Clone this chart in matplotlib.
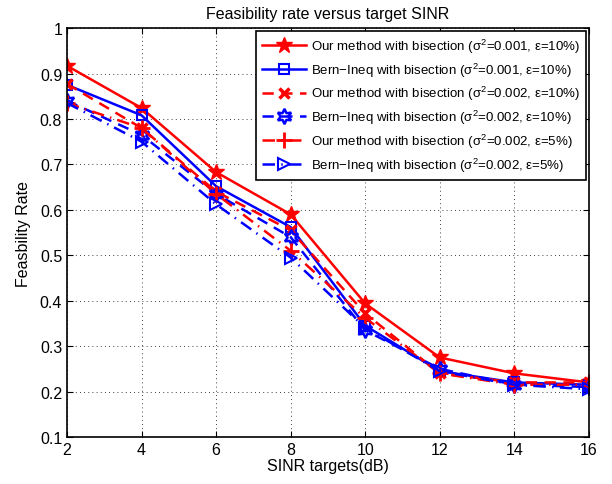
import matplotlib
matplotlib.use("Agg")
import matplotlib.pyplot as plt

plt.rcParams["font.family"] = ["Liberation Sans", "DejaVu Sans"]
plt.rcParams["mathtext.fontset"] = "custom"
plt.rcParams["mathtext.rm"] = "Liberation Sans"
plt.rcParams["mathtext.it"] = "Liberation Sans"

sinr = [2, 4, 6, 8, 10, 12, 14, 16]

our_001_10 = [0.917, 0.824, 0.683, 0.59, 0.394, 0.275, 0.24, 0.22]
bern_001_10 = [0.875, 0.808, 0.652, 0.562, 0.345, 0.245, 0.22, 0.215]
our_002_10 = [0.877, 0.78, 0.64, 0.555, 0.372, 0.24, 0.22, 0.22]
bern_002_10 = [0.84, 0.765, 0.635, 0.54, 0.335, 0.25, 0.215, 0.21]
our_002_5 = [0.835, 0.78, 0.635, 0.51, 0.362, 0.24, 0.215, 0.215]
bern_002_5 = [0.835, 0.75, 0.612, 0.495, 0.34, 0.245, 0.215, 0.205]

labels = [
    r"Our method with bisection ($\mathregular{\sigma^2}$=0.001, $\mathregular{\epsilon}$=10%)",
    r"Bern$-$Ineq with bisection ($\mathregular{\sigma^2}$=0.001, $\mathregular{\epsilon}$=10%)",
    r"Our method with bisection ($\mathregular{\sigma^2}$=0.002, $\mathregular{\epsilon}$=10%)",
    r"Bern$-$Ineq with bisection ($\mathregular{\sigma^2}$=0.002, $\mathregular{\epsilon}$=10%)",
    r"Our method with bisection ($\mathregular{\sigma^2}$=0.002, $\mathregular{\epsilon}$=5%)",
    r"Bern$-$Ineq with bisection ($\mathregular{\sigma^2}$=0.002, $\mathregular{\epsilon}$=5%)",
]

fig = plt.figure(figsize=(6.12, 4.85), dpi=100)
ax = fig.add_axes([0.1095, 0.097, 0.8525, 0.843])

lw = 1.8
dash = (0, (4.5, 3))
dashdot = (0, (5, 2.5, 0.6, 2.5))
ax.plot(sinr, our_001_10, "-", color="red", lw=lw, marker="*", ms=12, label=labels[0])
ax.plot(sinr, bern_001_10, "-", color="blue", lw=lw, marker="s", ms=7.5,
        mfc="none", mew=1.5, label=labels[1])
ax.plot(sinr, our_002_10, ls=dash, color="red", lw=lw, marker="x", ms=6.5,
        mew=2.5, label=labels[2])
ax.plot(sinr, bern_002_10, ls=dash, color="blue", lw=lw, marker=(6, 1, 0), ms=11,
        mfc="none", mew=1.8, label=labels[3])
ax.plot(sinr, our_002_5, ls=dashdot, color="red", lw=lw, marker="+", ms=11,
        mew=2, label=labels[4])
ax.plot(sinr, bern_002_5, ls=dashdot, color="blue", lw=lw, marker=">", ms=9,
        mfc="none", mew=1.5, label=labels[5])

ax.set_xlim(2, 16)
ax.set_ylim(0.1, 1)
ax.set_xticks(sinr)
ax.set_yticks([0.1, 0.2, 0.3, 0.4, 0.5, 0.6, 0.7, 0.8, 0.9, 1])
ax.set_yticklabels(["0.1", "0.2", "0.3", "0.4", "0.5", "0.6", "0.7", "0.8", "0.9", "1"])
ax.tick_params(direction="in", labelsize=11.5, length=4, top=True, right=True)
ax.grid(True, linestyle=(0, (1, 4)), color="black", linewidth=0.6)
for sp in ax.spines.values():
    sp.set_linewidth(1.2)

ax.set_xlabel("SINR targets(dB)", fontsize=11.5, labelpad=1)
ax.set_ylabel("Feasbility Rate", fontsize=11.5, labelpad=6)
ax.set_title("Feasibility rate versus target SINR", fontsize=11.5, pad=7)

leg = ax.legend(loc="upper right", fontsize=9.5, fancybox=False, framealpha=1,
                edgecolor="black", handlelength=3.3, borderaxespad=0.2,
                labelspacing=0.42, handletextpad=0.4, borderpad=0.45)
leg.get_frame().set_linewidth(1.2)

fig.savefig("out.png", dpi=100)
